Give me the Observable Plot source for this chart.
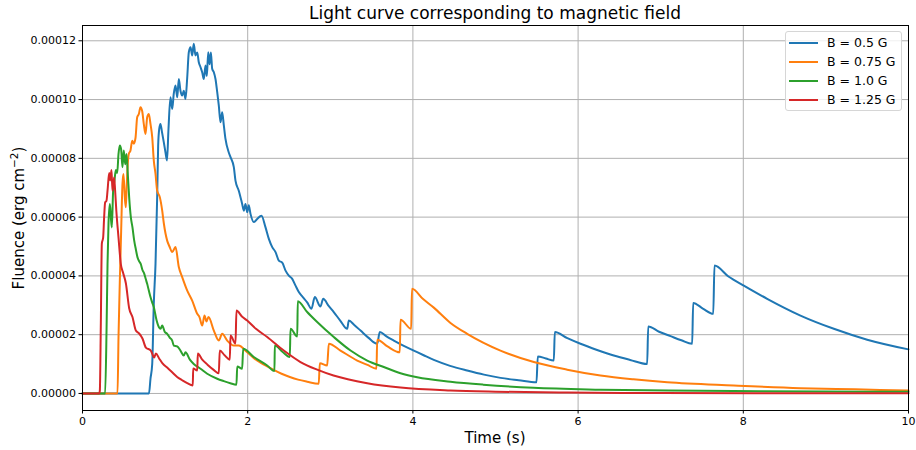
<!DOCTYPE html>
<html>
<head>
<meta charset="utf-8">
<script src="https://cdn.jsdelivr.net/npm/d3@7"></script>
<script src="https://cdn.jsdelivr.net/npm/@observablehq/plot@0.6"></script>
<style>
  body { margin: 0; background: #fff; font-family: "DejaVu Sans", sans-serif; }
  #wrap { position: relative; width: 916px; height: 450px; overflow: hidden; }
  #chart { position: absolute; left: 0; top: 0; }
  #title { position: absolute; left: 82px; width: 826px; top: 2px; line-height: 22px; text-align: center; font-size: 17px; color: #000; }
  #xlabel { position: absolute; left: 82px; width: 826px; top: 428px; line-height: 20px; text-align: center; font-size: 15px; color: #000; }
  #ylabel { position: absolute; left: 18px; top: 218px; transform: translate(-50%, -50%) rotate(-90deg); white-space: nowrap; font-size: 15px; color: #000; }
  #ylabel sup { font-size: 10.5px; }
  #legend { position: absolute; left: 785px; top: 31px; width: 115px; height: 78px; border: 1px solid #d6d6d6; border-radius: 3px; background: rgba(255,255,255,0.8); }
  .row { position: absolute; left: 0; height: 19px; width: 115px; }
  .sw { position: absolute; left: 3px; top: 9px; width: 29px; height: 2px; }
  .lt { position: absolute; left: 41px; top: 0; line-height: 19px; font-size: 12.5px; color: #000; white-space: nowrap; }
</style>
</head>
<body>
<div id="wrap">
  <div id="chart"></div>
  <div id="title">Light curve corresponding to magnetic field</div>
  <div id="xlabel">Time (s)</div>
  <div id="ylabel">Fluence (erg cm<sup>−2</sup>)</div>
  <div id="legend"></div>
</div>
<script>
// Values. Fluence values are in units of 1e-5 erg cm^-2.
const fluenceUnit = 1e-5;

const seriesNames = ["B = 0.5 G", "B = 0.75 G", "B = 1.0 G", "B = 1.25 G"];
const seriesColors = ["#1f77b4", "#ff7f0e", "#2ca02c", "#d62728"];

const xTicks = [0, 2, 4, 6, 8, 10];
const yTicks = [0, 0.00002, 0.00004, 0.00006, 0.00008, 0.0001, 0.00012];

// B = 0.5 G
const t05 = [0, 0.805, 0.823, 0.844, 0.863, 0.884, 0.904, 0.916, 0.929, 0.944, 0.962, 0.984, 1.005, 1.023, 1.041, 1.065, 1.086, 1.105, 1.126, 1.147, 1.166, 1.186, 1.207, 1.226, 1.247, 1.268, 1.287, 1.308, 1.328, 1.347, 1.368, 1.389, 1.408, 1.429, 1.449, 1.469, 1.489, 1.505, 1.522, 1.538, 1.554, 1.57, 1.59, 1.61, 1.631, 1.65, 1.671, 1.691, 1.711, 1.731, 1.771, 1.792, 1.832, 1.852, 1.892, 1.933, 1.953, 1.973, 1.994, 2.013, 2.034, 2.074, 2.115, 2.167, 2.215, 2.256, 2.297, 2.337, 2.377, 2.418, 2.458, 2.498, 2.539, 2.579, 2.619, 2.667, 2.72, 2.772, 2.812, 2.881, 2.914, 2.98, 3.042, 3.12, 3.205, 3.224, 3.29, 3.366, 3.46, 3.568, 3.599, 3.68, 3.769, 3.89, 4.011, 4.13, 4.253, 4.45, 4.657, 4.86, 5.061, 5.28, 5.496, 5.512, 5.61, 5.706, 5.718, 5.87, 6.029, 6.23, 6.432, 6.63, 6.836, 6.849, 6.98, 7.119, 7.25, 7.381, 7.393, 7.51, 7.636, 7.651, 7.82, 8.006, 8.289, 8.692, 9.096, 9.5, 10];
const f05 = [0, 0, 0.5, 1.0, 3.05, 4.41, 6.68, 8.44, 9.0, 9.17, 8.9, 8.55, 8.2, 7.93, 9.0, 10.08, 9.68, 10.2, 10.48, 10.08, 10.7, 10.3, 10.14, 10.3, 10.02, 10.76, 11.61, 11.78, 11.5, 11.9, 11.5, 11.6, 11.27, 11.1, 10.93, 10.7, 11.16, 10.8, 11.61, 11.2, 11.6, 11.05, 10.93, 10.7, 10.25, 9.8, 9.23, 9.57, 9.12, 8.66, 8.2, 8.04, 7.7, 7.24, 6.9, 6.45, 6.22, 6.45, 6.17, 6.4, 6.11, 5.83, 5.94, 6.05, 5.66, 5.26, 4.98, 4.81, 4.52, 4.45, 4.18, 4.01, 3.9, 3.67, 3.45, 3.28, 3.1, 2.88, 3.28, 2.96, 3.22, 2.98, 2.77, 2.48, 2.2, 2.48, 2.33, 2.14, 1.9, 1.69, 2.09, 1.94, 1.8, 1.62, 1.46, 1.3, 1.14, 0.94, 0.78, 0.64, 0.53, 0.45, 0.38, 1.26, 1.19, 1.12, 2.09, 1.88, 1.69, 1.48, 1.29, 1.14, 1.0, 2.28, 2.1, 1.95, 1.81, 1.69, 3.08, 2.89, 2.71, 4.35, 3.98, 3.67, 3.22, 2.65, 2.2, 1.83, 1.5];

// B = 0.75 G
const t075 = [0, 0.424, 0.436, 0.452, 0.468, 0.484, 0.496, 0.512, 0.524, 0.533, 0.548, 0.56, 0.581, 0.602, 0.621, 0.642, 0.662, 0.682, 0.702, 0.723, 0.742, 0.763, 0.783, 0.803, 0.823, 0.844, 0.863, 0.884, 0.904, 0.936, 0.965, 0.984, 1.025, 1.053, 1.086, 1.126, 1.166, 1.207, 1.268, 1.328, 1.389, 1.416, 1.449, 1.477, 1.501, 1.525, 1.59, 1.65, 1.691, 1.752, 1.832, 1.889, 1.994, 2.075, 2.155, 2.236, 2.316, 2.41, 2.51, 2.61, 2.72, 2.86, 2.873, 2.962, 2.982, 3.123, 3.326, 3.45, 3.559, 3.568, 3.692, 3.841, 3.85, 3.979, 3.989, 4.12, 4.253, 4.455, 4.657, 5.06, 5.464, 5.868, 6.271, 6.67, 7.079, 7.885, 8.692, 9.35, 10];
const f075 = [0, 0, 1.92, 3.84, 5.54, 7.13, 7.47, 6.68, 6.34, 6.9, 7.81, 8.15, 8.27, 8.6, 8.5, 8.7, 9.4, 9.51, 9.74, 9.6, 9.17, 8.83, 9.4, 9.51, 9.17, 8.72, 7.93, 7.47, 6.9, 6.68, 6.22, 5.8, 5.2, 5.0, 4.81, 4.98, 4.3, 3.96, 3.5, 3.16, 2.71, 2.6, 2.31, 2.65, 2.45, 2.6, 2.14, 1.8, 2.03, 1.8, 1.63, 1.63, 1.4, 1.2, 1.05, 0.92, 0.8, 0.67, 0.56, 0.47, 0.4, 0.33, 1.03, 0.95, 1.69, 1.46, 1.12, 0.97, 0.84, 1.83, 1.6, 1.4, 2.51, 2.2, 3.56, 3.22, 2.92, 2.4, 2.03, 1.46, 1.07, 0.81, 0.61, 0.48, 0.38, 0.27, 0.18, 0.14, 0.1];

// B = 1.0 G
const t10 = [0, 0.274, 0.291, 0.303, 0.315, 0.331, 0.343, 0.355, 0.371, 0.387, 0.404, 0.42, 0.436, 0.452, 0.468, 0.484, 0.5, 0.517, 0.533, 0.548, 0.565, 0.585, 0.605, 0.626, 0.646, 0.666, 0.686, 0.706, 0.726, 0.747, 0.765, 0.783, 0.803, 0.823, 0.843, 0.863, 0.896, 0.924, 0.945, 0.965, 0.995, 1.025, 1.055, 1.086, 1.105, 1.146, 1.186, 1.226, 1.247, 1.3, 1.347, 1.429, 1.51, 1.631, 1.711, 1.79, 1.864, 1.873, 1.933, 1.945, 2.074, 2.236, 2.324, 2.328, 2.42, 2.51, 2.518, 2.6, 2.606, 2.72, 2.841, 3.042, 3.245, 3.447, 3.648, 3.85, 4.052, 4.455, 4.85, 5.46, 6.27, 7.1, 7.88, 9, 10];
const f10 = [0, 0, 2.14, 4.4, 5.8, 6.45, 6.0, 5.65, 6.9, 7.25, 7.6, 7.5, 8.15, 8.44, 8.3, 7.7, 8.27, 7.8, 8.15, 7.48, 6.67, 6.0, 5.65, 5.2, 4.9, 4.63, 4.5, 4.4, 4.2, 4.08, 3.9, 3.73, 3.5, 3.28, 3.1, 2.94, 2.5, 2.26, 2.2, 2.31, 2.1, 2.03, 1.9, 1.8, 1.63, 1.6, 1.46, 1.29, 1.4, 1.15, 1.0, 0.84, 0.67, 0.5, 0.42, 0.35, 0.3, 0.92, 0.84, 1.52, 1.24, 0.95, 0.76, 1.63, 1.42, 1.24, 2.2, 1.94, 3.14, 2.77, 2.43, 1.92, 1.46, 1.12, 0.9, 0.69, 0.55, 0.4, 0.3, 0.19, 0.13, 0.1, 0.08, 0.065, 0.055];

// B = 1.25 G
const t125 = [0, 0.202, 0.21, 0.222, 0.234, 0.25, 0.262, 0.274, 0.29, 0.303, 0.323, 0.335, 0.351, 0.363, 0.383, 0.395, 0.41, 0.436, 0.464, 0.492, 0.525, 0.565, 0.605, 0.646, 0.686, 0.726, 0.767, 0.827, 0.868, 0.888, 0.928, 0.969, 1.025, 1.086, 1.146, 1.207, 1.268, 1.335, 1.34, 1.389, 1.396, 1.45, 1.513, 1.58, 1.65, 1.662, 1.72, 1.783, 1.792, 1.852, 1.864, 1.93, 1.994, 2.1, 2.236, 2.437, 2.639, 2.841, 3.039, 3.447, 3.85, 4.455, 5.0, 5.87, 7.0, 8.5, 10];
const f125 = [0, 0, 0.1, 2.4, 5.1, 5.3, 6.0, 6.5, 6.55, 6.9, 7.5, 7.25, 7.6, 6.9, 7.35, 6.9, 6.2, 5.3, 4.4, 4.1, 3.75, 2.9, 2.6, 2.14, 2.04, 1.87, 1.56, 1.46, 1.22, 1.36, 1.19, 1.02, 0.88, 0.72, 0.56, 0.45, 0.35, 0.27, 0.85, 0.78, 1.36, 1.15, 0.98, 0.82, 0.69, 1.46, 1.3, 1.15, 1.97, 1.7, 2.82, 2.62, 2.48, 2.2, 1.92, 1.46, 1.07, 0.81, 0.61, 0.35, 0.2, 0.1, 0.06, 0.03, 0.015, 0.008, 0.004];

const seriesT = [t05, t075, t10, t125];
const seriesF = [f05, f075, f10, f125];

const tables = seriesT.map((ts, i) => ts.map((t, j) => ({t, f: seriesF[i][j] * fluenceUnit, s: seriesNames[i]})));

const chart = Plot.plot({
  width: 916,
  height: 450,
  marginLeft: 82,
  marginRight: 8,
  marginTop: 25,
  marginBottom: 40,
  style: { fontFamily: "DejaVu Sans, sans-serif", fontSize: "11px", color: "#000", background: "#fff", overflow: "visible" },
  x: { domain: [0, 10], label: null },
  y: { domain: [-0.0000058, 0.0001252], label: null },
  marks: [
    Plot.gridX(xTicks, { stroke: "#b0b0b0", strokeOpacity: 1, strokeWidth: 1 }),
    Plot.gridY(yTicks, { stroke: "#b0b0b0", strokeOpacity: 1, strokeWidth: 1 }),
    ...tables.map((d, i) => Plot.line(d, { x: "t", y: "f", stroke: seriesColors[i], strokeWidth: 2, curve: "monotone-x" })),
    Plot.frame({ stroke: "#000", strokeWidth: 1 }),
    Plot.axisX(xTicks, { tickSize: 3.5, tickPadding: 3, label: null, tickFormat: d => String(d), fill: "#000", stroke: "#000" }),
    Plot.axisY(yTicks, { tickSize: 3.5, tickPadding: 3, label: null, tickFormat: d3.format(".5f"), fill: "#000", stroke: "#000" })
  ]
});
document.getElementById("chart").appendChild(chart);

// legend
const leg = document.getElementById("legend");
const rowTops = [1, 20, 39, 58];
seriesNames.forEach((name, i) => {
  const row = document.createElement("div");
  row.className = "row";
  row.style.top = rowTops[i] + "px";
  const sw = document.createElement("div");
  sw.className = "sw";
  sw.style.background = seriesColors[i];
  const lt = document.createElement("div");
  lt.className = "lt";
  lt.textContent = name;
  row.appendChild(sw);
  row.appendChild(lt);
  leg.appendChild(row);
});
</script>
</body>
</html>
